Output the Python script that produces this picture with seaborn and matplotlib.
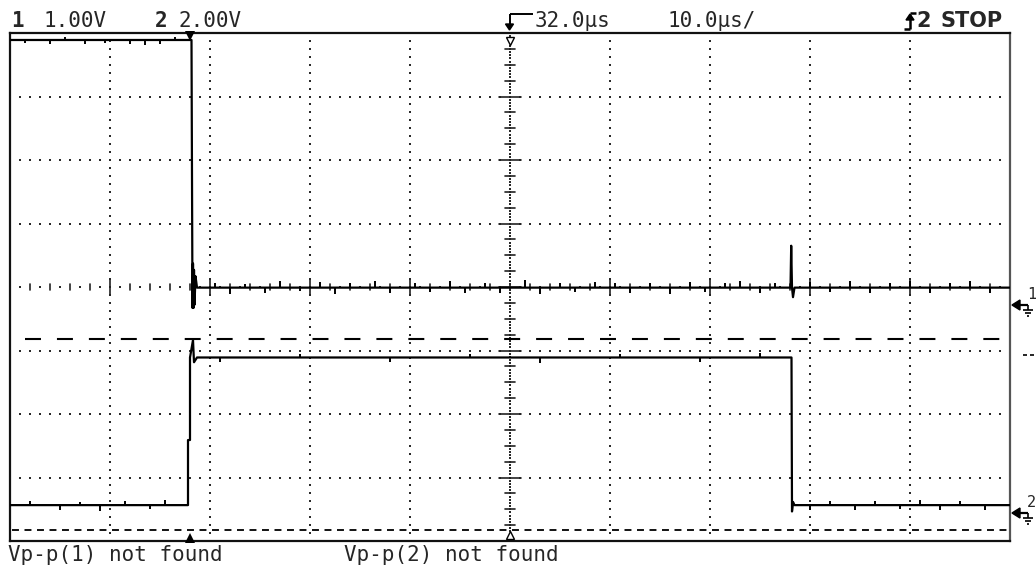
import numpy as np
import pandas as pd
import matplotlib
matplotlib.use("Agg")
import matplotlib.pyplot as plt
import seaborn as sns
from matplotlib.lines import Line2D
from matplotlib.transforms import Affine2D

# ---------------- data ----------------
# time base
time_per_div = 10.0          # us / div
delay = 32.0                 # us at screen centre

# channel settings
ch1_volts_per_div = 1.0
ch1_ground_div = -0.28
ch2_volts_per_div = 2.0
ch2_ground_div = -3.56

# channel 1 trace (us, V)
ch1_t = [-18.0, 0.15, 0.2, 0.25, 0.3, 0.35, 0.4, 0.45, 0.55, 0.7, 60.05, 60.12, 60.2, 60.3, 60.45, 82.0]
ch1_v = [4.17, 4.17, 2.0, -0.05, 0.65, -0.05, 0.55, 0.0, 0.45, 0.27, 0.27, 0.93, 0.27, 0.12, 0.27, 0.27]

# channel 2 trace (us, V)
ch2_t = [-18.0, -0.2, -0.2, 0.0, 0.0, 0.3, 0.4, 0.7, 60.15, 60.2, 60.3, 60.45, 82.0]
ch2_v = [0.25, 0.25, 2.3, 2.3, 4.9, 5.45, 4.75, 4.9, 4.9, 0.05, 0.35, 0.25, 0.25]

# small noise ticks on the traces (us, V offset)
ch1_high_noise_t = [-16.5, -14.0, -12.5, -10.5, -8.5, -6.0, -4.5, -3.0, -1.5]
ch1_high_noise_dv = [-0.05, -0.06, 0.04, -0.07, -0.05, -0.06, -0.08, -0.06, 0.05]
ch1_low_noise_t = [2.5, 4.0, 5.5, 7.5, 9.0, 11.0, 13.0, 14.5, 16.0, 18.5, 20.0, 22.5, 24.0,
                   26.0, 27.5, 29.5, 31.0, 33.5, 35.0, 37.0, 38.5, 40.5, 42.5, 44.0, 46.0,
                   48.0, 50.0, 51.5, 53.5, 55.0, 57.0, 58.5, 62.0, 64.0, 66.0, 68.0, 70.0,
                   72.0, 74.0, 76.0, 78.0, 80.0]
ch1_low_noise_dv = [0.08, -0.10, 0.06, -0.08, 0.10, -0.06, 0.09, -0.10, 0.07, 0.10, -0.08,
                    0.08, -0.07, 0.10, -0.09, 0.07, -0.08, 0.12, -0.10, 0.08, -0.07, 0.09,
                    0.07, -0.09, 0.08, -0.10, 0.09, -0.07, 0.08, 0.10, -0.08, 0.07, 0.09,
                    -0.07, 0.10, -0.08, 0.08, 0.10, -0.09, 0.07, 0.10, -0.08]
ch2_low_noise_t = [-16.0, -13.0, -11.0, -9.0, -6.5, -4.0, -2.5, 62.0, 64.0, 66.5, 68.5,
                   71.0, 73.0, 75.0, 77.0, 79.5]
ch2_low_noise_dv = [0.12, -0.15, 0.10, -0.18, 0.14, -0.12, 0.15, -0.15, 0.12, -0.16, 0.14,
                    -0.12, 0.15, -0.14, 0.12, -0.15]
ch2_high_noise_t = [3.0, 11.0, 20.0, 28.0, 35.0, 43.0, 51.0, 57.0]
ch2_high_noise_dv = [-0.15, 0.12, -0.15, 0.12, -0.18, 0.12, -0.15, 0.15]

# reference level lines (divisions)
level_a_div = -0.824
level_b_div = -3.83

# texts
header_ch1_num, header_ch1_scale = "1", "1.00V"
header_ch2_num, header_ch2_scale = "2", "2.00V"
header_delay = "32.0µs"
header_timebase = "10.0µs/"
header_trig = "2"
header_state = "STOP"
footer_1 = "Vp-p(1) not found"
footer_2 = "Vp-p(2) not found"

# ---------------- build ----------------
def to_div(v, vpd, gnd):
    return gnd + np.asarray(v, dtype=float) / vpd

df = pd.concat([
    pd.DataFrame({"t": ch1_t, "div": to_div(ch1_v, ch1_volts_per_div, ch1_ground_div), "ch": "1"}),
    pd.DataFrame({"t": ch2_t, "div": to_div(ch2_v, ch2_volts_per_div, ch2_ground_div), "ch": "2"}),
], ignore_index=True)

W, H, DPI = 1036, 569, 100
plt.rcParams["lines.scale_dashes"] = False
sns.set_style("white")
plt.rcParams["font.family"] = ["DejaVu Sans Mono", "DejaVu Sans"]

fig = plt.figure(figsize=(W / DPI, H / DPI), dpi=DPI)
fig.patch.set_facecolor("white")
ax = fig.add_axes([10 / W, 28 / H, 1000 / W, 508 / H])
t_left = delay - 5 * time_per_div
t_right = delay + 5 * time_per_div
ax.set_xlim(t_left, t_right)
ax.set_ylim(-4, 4)
ax.set_xticks([])
ax.set_yticks([])
for s in ax.spines.values():
    s.set_linewidth(1.6)
    s.set_color("#111111")
ax.spines["right"].set_color("#555555")

# graticule dots
dot_kw = dict(ls="none", marker="s", ms=1.45, mew=0, color="#2a2a2a", zorder=1)
grid_t = [t_left + k * time_per_div for k in range(1, 10) if k != 5]
for d in [-3, -2, -1, 1, 2, 3]:
    xs = np.arange(t_left + 1, t_right, 1.0)
    ax.plot(xs, np.full_like(xs, d), **dot_kw)
for tg in grid_t:
    ys = np.arange(-4 + 0.125, 4, 0.125)
    ax.plot(np.full_like(ys, tg), ys, **dot_kw)
# centre horizontal axis
xs = np.arange(t_left + 1, t_right, 2.0)
ax.plot(xs, np.zeros_like(xs), **dot_kw)
for tk in np.arange(t_left + 2, t_right, 2.0):
    major = any(abs(tk - g) < 1e-6 for g in grid_t)
    h = 0.13 if major else 0.055
    ax.plot([tk, tk], [-h, h], color="#222222", lw=1.2, zorder=1)
# centre vertical axis
ys = np.arange(-4 + 0.05, 4, 0.05)
ax.plot(np.full_like(ys, delay), ys, **dot_kw)
for yk in np.arange(-3.75, 4, 0.25):
    major = abs(yk - round(yk)) < 1e-6
    w = 1.1 if major else 0.5
    ax.plot([delay - w, delay + w], [yk, yk], color="#222222", lw=1.2, zorder=1)

# reference dashed lines
ax.plot([t_left + 1.5, t_right], [level_a_div, level_a_div], color="black", lw=1.5,
        dashes=(11.5, 11.5), zorder=2)
ax.plot([t_left + 0.2, t_right], [level_b_div, level_b_div], color="black", lw=1.3,
        dashes=(5.0, 4.0), zorder=2)

# traces
sns.lineplot(data=df, x="t", y="div", hue="ch", palette=["black", "black"],
             estimator=None, sort=False, legend=False, lw=1.6, ax=ax, zorder=3)
ax.set_xlabel("")
ax.set_ylabel("")

def noise(ts, dvs, base_v, vpd, gnd):
    b = gnd + base_v / vpd
    ax.vlines(ts, b, b + np.asarray(dvs) / vpd, color="black", lw=1.4, zorder=3)

noise(ch1_high_noise_t, ch1_high_noise_dv, ch1_v[0], ch1_volts_per_div, ch1_ground_div)
noise(ch1_low_noise_t, ch1_low_noise_dv, ch1_v[-1], ch1_volts_per_div, ch1_ground_div)
noise(ch2_low_noise_t, ch2_low_noise_dv, ch2_v[0], ch2_volts_per_div, ch2_ground_div)
noise(ch2_high_noise_t, ch2_high_noise_dv, ch2_v[7], ch2_volts_per_div, ch2_ground_div)

# trigger / delay markers
ax.plot([0], [3.95], marker="v", ms=7, color="black", mew=0, clip_on=False, zorder=4)
ax.plot([0], [-3.95], marker="^", ms=7, color="black", mew=0, clip_on=False, zorder=4)
ax.plot([delay], [3.88], marker="v", ms=6, mfc="white", mec="black", mew=1.0, zorder=4)
ax.plot([delay], [-3.9], marker="^", ms=6, mfc="white", mec="black", mew=1.0, zorder=4)

# ---------------- annotations in pixel coordinates ----------------
px = Affine2D().scale(1 / W, -1 / H).translate(0, 1) + fig.transFigure

def pline(xs, ys, lw=1.4, color="black"):
    fig.add_artist(Line2D(xs, ys, transform=px, lw=lw, color=color, solid_capstyle="butt"))

def ptext(x, y, s, size=15, weight="normal", family=None, ha="left"):
    kw = {}
    if family is not None:
        kw["family"] = family
    fig.text(x, y, s, transform=px, fontsize=size, fontweight=weight, ha=ha,
             va="baseline", **kw)

# header
ptext(11, 27, header_ch1_num, weight="bold")
ptext(44, 27, header_ch1_scale)
ptext(155, 27, header_ch2_num, weight="bold")
ptext(178, 27, header_ch2_scale)
ptext(535, 27, header_delay)
ptext(668, 27, header_timebase)
ptext(916, 27, header_trig, size=15, weight="bold", family=["DejaVu Sans"])
ptext(940, 27, header_state, size=15, weight="bold", family=["DejaVu Sans"])
# delay arrow
pline([509.5, 533], [14.5, 14.5])
pline([509.5, 509.5], [14.5, 27])
fig.add_artist(matplotlib.patches.Polygon([[505.5, 24], [513.5, 24], [509.5, 30]], closed=True,
                                          transform=px, color="black"))
# rising edge symbol
pline([904, 910], [29, 29], lw=1.8)
pline([910, 910], [29, 15], lw=1.8)
pline([910, 916], [13.5, 13.5], lw=1.8)
fig.add_artist(matplotlib.patches.Polygon([[906, 20], [914, 20], [910, 14]], closed=True,
                                          transform=px, color="black"))

# footer
ptext(8, 561, footer_1)
ptext(344, 561, footer_2)

# ground markers on the right
def ground_marker(y, label):
    fig.add_artist(matplotlib.patches.Polygon([[1012, y], [1020, y - 5], [1020, y + 5]],
                                              closed=True, transform=px, color="black"))
    pline([1019, 1028], [y, y], lw=1.6)
    pline([1028, 1028], [y, y + 5], lw=1.2)
    pline([1023, 1033], [y + 5.5, y + 5.5], lw=1.2)
    pline([1025, 1031], [y + 8.5, y + 8.5], lw=1.2)
    pline([1027, 1029], [y + 11.5, y + 11.5], lw=1.2)
    ptext(1027, y - 6, label, size=11)

ground_marker(305, "1")
ground_marker(513, "2")
pline([1023, 1027], [355, 355], lw=1.2)
pline([1030, 1034], [355, 355], lw=1.2)

fig.savefig("out.png", dpi=DPI, facecolor="white")
